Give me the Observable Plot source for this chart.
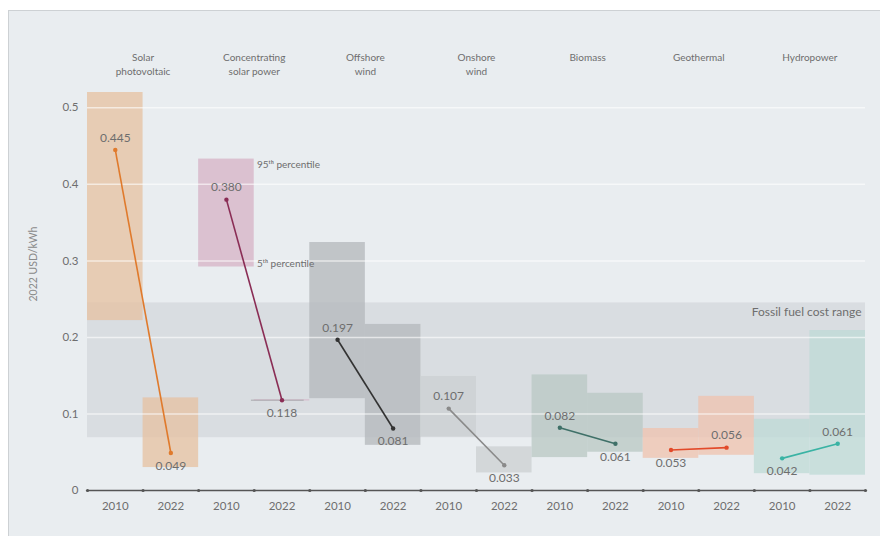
<!DOCTYPE html>
<html>
<head>
<meta charset="utf-8">
<script src="https://cdn.jsdelivr.net/npm/d3@7"></script>
<script src="https://cdn.jsdelivr.net/npm/@observablehq/plot@0.6"></script>
<style>
  html, body { margin: 0; padding: 0; background: #ffffff; }
  #frame { position: absolute; left: 8px; top: 10px; width: 872px; height: 526px;
    background: #e9edf0; border-top: 1px solid #cdd1d4; border-left: 1px solid #cdd1d4; box-sizing: border-box; overflow: hidden; }
</style>
</head>
<body>
<div id="frame"></div>
<script>
// ---- data ----
const techs = ["Solar\nphotovoltaic", "Concentrating\nsolar power", "Offshore\nwind", "Onshore\nwind", "Biomass", "Geothermal", "Hydropower"];
const years = ["2010", "2022"];
const lcoe2010 = [0.445, 0.380, 0.197, 0.107, 0.082, 0.053, 0.042];
const lcoe2022 = [0.049, 0.118, 0.081, 0.033, 0.061, 0.056, 0.061];
const p95_2010 = [0.520, 0.433, 0.324, 0.149, 0.151, 0.081, 0.093];
const p5_2010  = [0.222, 0.292, 0.120, 0.070, 0.043, 0.042, 0.022];
const p95_2022 = [0.121, 0.1185, 0.217, 0.057, 0.127, 0.123, 0.209];
const p5_2022  = [0.030, 0.1170, 0.059, 0.023, 0.050, 0.046, 0.020];
const fossilRange = [0.069, 0.245];
const yTicks = [0, 0.1, 0.2, 0.3, 0.4, 0.5];
const yLabel = "2022 USD/kWh";
const boxColors  = ["#e6c0a0", "#d6b2c6", "#b3b7bb", "#cbcfd1", "#b8c7c3", "#efc2ad", "#bddad6"];
const lineColors = ["#e07a2c", "#8a2d55", "#333333", "#8a8a8a", "#3f7068", "#e24a2a", "#3ab3a4"];

// ---- derived tables ----
const rows = techs.flatMap((t, i) => years.map((yr, j) => {
  const v = j ? lcoe2022[i] : lcoe2010[i];
  const other = j ? lcoe2010[i] : lcoe2022[i];
  return {
    i, pos: 2 * i + j, tech: t, year: yr,
    lo: j ? p5_2022[i] : p5_2010[i],
    hi: j ? p95_2022[i] : p95_2010[i],
    v, above: v >= other
  };
}));
const segs = techs.map((t, i) => ({ i, x1: 2 * i + 0.5, x2: 2 * i + 1.5, y1: lcoe2010[i], y2: lcoe2022[i] }));
const cats = techs.map((t, i) => ({ t, x: 2 * i + 1 }));

const W = 871, H = 525;
const font = "Lato, 'Open Sans', sans-serif";
const txt = "#6e6e6e";

const chart = Plot.plot({
  width: W, height: H,
  marginLeft: 78, marginRight: 15, marginTop: 81, marginBottom: 46,
  style: { fontFamily: font, background: "transparent", color: txt },
  x: { domain: [0, 14], axis: null },
  y: { domain: [0, 0.52], axis: null },
  marks: [
    // fossil fuel band
    Plot.rect([fossilRange], { x1: 0, x2: 14, y1: d => d[0], y2: d => d[1], fill: "#c9cdd1", fillOpacity: 0.5 }),
    // percentile boxes
    Plot.rect(rows, { x1: d => d.pos, x2: d => d.pos + 1, y1: "lo", y2: "hi", fill: d => boxColors[d.i], fillOpacity: 0.75 }),
    // thin CSP 2022 range line
    Plot.ruleY(rows.filter(d => d.hi - d.lo < 0.005), { x1: d => d.pos - 0.05, x2: d => d.pos + 0.9, y: "v", stroke: "#a8a8ac", strokeWidth: 1 }),
    // gridlines
    Plot.ruleY(yTicks.filter(d => d > 0), { stroke: "#ffffff", strokeOpacity: 0.6, strokeWidth: 1.5 }),
    // connecting lines
    Plot.link(segs, { x1: "x1", x2: "x2", y1: "y1", y2: "y2", stroke: d => lineColors[d.i], strokeWidth: 1.6 }),
    Plot.dot(rows, { x: d => d.pos + 0.5, y: "v", r: 2.2, fill: d => lineColors[d.i] }),
    // value labels
    Plot.text(rows.filter(d => d.above), { x: d => d.pos + 0.5, y: "v", text: d => d.v.toFixed(3), dy: -12, fill: txt, fontSize: 12 }),
    Plot.text(rows.filter(d => !d.above), { x: d => d.pos + 0.5, y: "v", text: d => d.v.toFixed(3), dy: 13, fill: txt, fontSize: 12 }),
    // percentile annotations
    Plot.text(["95ᵗʰ percentile"], { x: 3.05, y: p95_2010[1] - 0.008, text: d => d, textAnchor: "start", fill: txt, fontSize: 10 }),
    Plot.text(["5ᵗʰ percentile"], { x: 3.05, y: p5_2010[1] + 0.004, text: d => d, textAnchor: "start", fill: txt, fontSize: 10 }),
    Plot.text(["Fossil fuel cost range"], { x: 14, y: fossilRange[1] - 0.012, text: d => d, textAnchor: "end", dx: -4, fill: txt, fontSize: 12 }),
    // x axis
    Plot.ruleY([0], { stroke: "#555", strokeWidth: 1.6 }),
    Plot.dot(d3.range(15), { x: d => d, y: 0, r: 1.6, fill: "#555" }),
    Plot.text(rows, { x: d => d.pos + 0.5, y: 0, text: "year", dy: 16, fill: txt, fontSize: 11.5 }),
    // y axis
    Plot.text(yTicks, { x: 0, y: d => d, text: d => d === 0 ? "0" : String(d), textAnchor: "end", dx: -9, fill: txt, fontSize: 11.5 }),
    Plot.text([yLabel], { frameAnchor: "left", text: d => d, rotate: -90, dx: -54, dy: 10, fill: "#8a8a8a", fontSize: 10.5 }),
    // category labels
    Plot.text(cats, { x: "x", frameAnchor: "top", text: "t", lineAnchor: "top", dy: -42, fill: txt, fontSize: 10, lineHeight: 1.45 })
  ]
});
document.getElementById("frame").appendChild(chart);
</script>
</body>
</html>
